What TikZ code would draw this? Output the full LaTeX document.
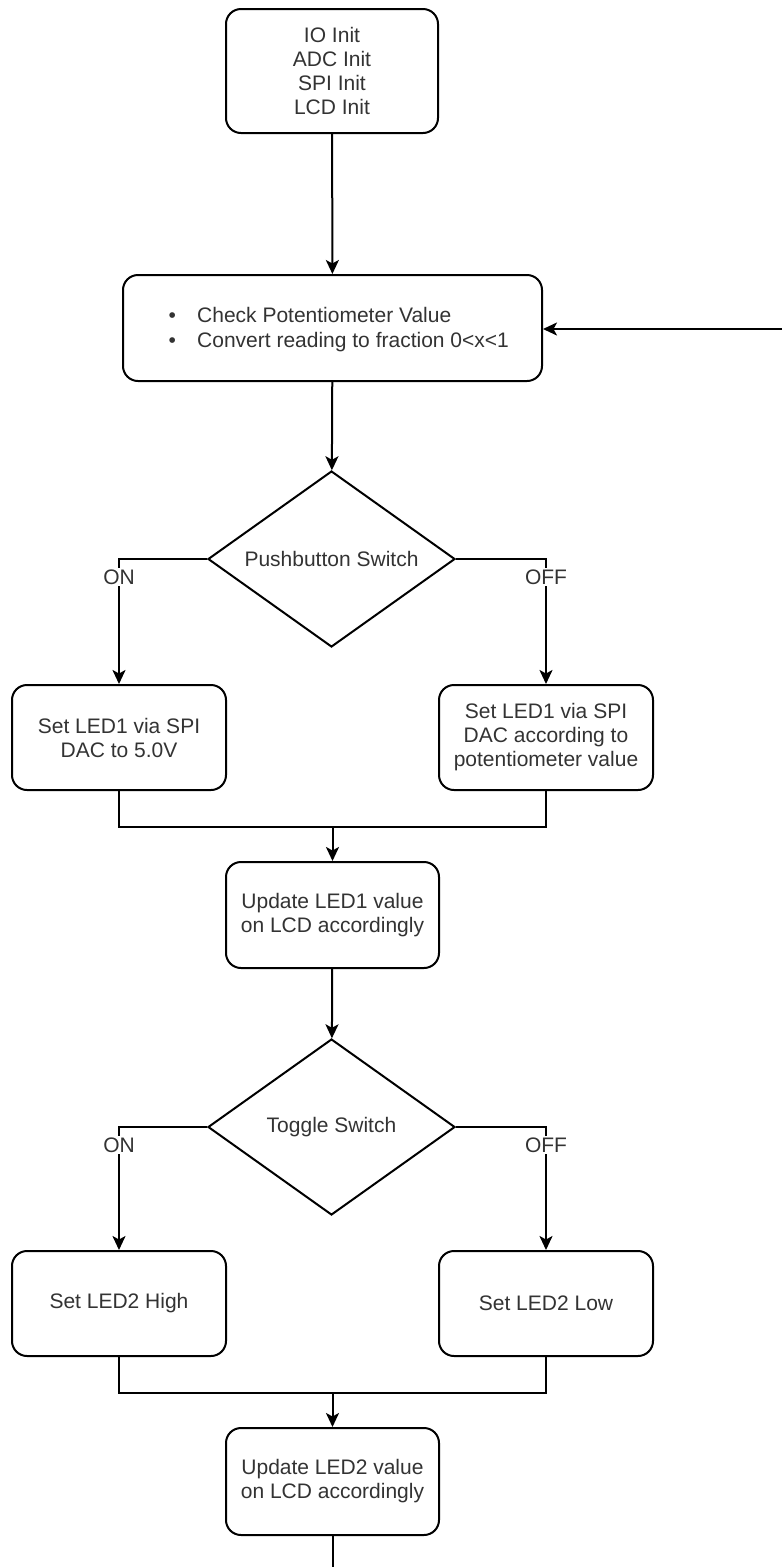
\documentclass[tikz,border=0pt]{standalone}
\usepackage{fontspec}
\setmainfont{Liberation Sans}
\usepackage{tikz}
\usetikzlibrary{shapes.geometric,arrows.meta}
\definecolor{txt}{HTML}{333333}
\begin{document}
\begin{tikzpicture}[x=1pt,y=-1pt,
  every node/.style={font=\fontsize{21}{24}\selectfont, text=txt},
  box/.style={draw=black, line width=2pt, rounded corners=15pt, align=center, inner sep=0pt},
  dec/.style={draw=black, diamond, line width=2pt, inner sep=0pt, minimum width=247pt, minimum height=176pt},
  conn/.style={draw=black, line width=2pt},
  arr/.style={conn, -{Stealth[length=14pt,width=13pt,inset=3.5pt]}},
  lbl/.style={fill=white, inner sep=1.5pt}]
\useasboundingbox (0,0) rectangle (782,1567);
\fill[white] (0,0) rectangle (782,1567);

% nodes
\node[box, minimum width=212pt, minimum height=124pt] (b1) at (332,71) {IO Init\\ADC Init\\SPI Init\\LCD Init};
\node[box, minimum width=419pt, minimum height=106pt] (b2) at (332.5,328) {};
\node[anchor=west, align=left, inner sep=0pt] (lst) at (168.5,329.5)
  {\makebox[28.5pt][l]{\textbullet}Check Potentiometer Value\\[1pt]\makebox[28.5pt][l]{\textbullet}Convert reading to fraction 0<x<1};
\node[dec, label=center:{Pushbutton Switch}] (d1) at (331.5,559) {};
\node[box, minimum width=214pt, minimum height=105pt] (b3) at (119,737.5) {Set LED1 via SPI\\DAC to 5.0V};
\node[box, minimum width=214pt, minimum height=105pt] (b4) at (546,737.5) {Set LED1 via SPI\\DAC according to\\potentiometer value};
\node[box, minimum width=213pt, minimum height=106pt] (b5) at (332.5,915) {Update LED1 value\\on LCD accordingly};
\node[dec, label=center:{Toggle Switch}] (d2) at (331.5,1127) {};
\node[box, minimum width=214pt, minimum height=105pt] (b6) at (119,1303.5) {Set LED2 High};
\node[box, minimum width=214pt, minimum height=105pt] (b7) at (546,1303.5) {Set LED2 Low};
\node[box, minimum width=213pt, minimum height=107pt] (b8) at (332.5,1481.5) {Update LED2 value\\on LCD accordingly};

\coordinate (j1) at (332.5,827);
\coordinate (j2) at (332.5,1393);
\coordinate (loopin) at (790,329);
\coordinate (bottom) at (332.5,1580);

% connectors
\draw[arr] (b1) -- (b2);
\draw[arr] (loopin) -- (b2.east |- loopin);
\draw[arr] (b2) -- (d1);
\draw[arr] (d1.west) -| (b3.north);
\draw[arr] (d1.east) -| (b4.north);
\draw[conn] (b3.south) |- (j1) -| (b4.south);
\draw[arr] (j1) -- (b5.north);
\draw[arr] (b5) -- (d2);
\draw[arr] (d2.west) -| (b6.north);
\draw[arr] (d2.east) -| (b7.north);
\draw[conn] (b6.south) |- (j2) -| (b7.south);
\draw[arr] (j2) -- (b8.north);
\draw[conn] (b8.south) -- (bottom);

% branch labels
\node[lbl] (on1) at (119,577) {ON};
\node[lbl] (off1) at (546,577) {OFF};
\node[lbl] (on2) at (119,1145) {ON};
\node[lbl] (off2) at (546,1145) {OFF};
\end{tikzpicture}
\end{document}
